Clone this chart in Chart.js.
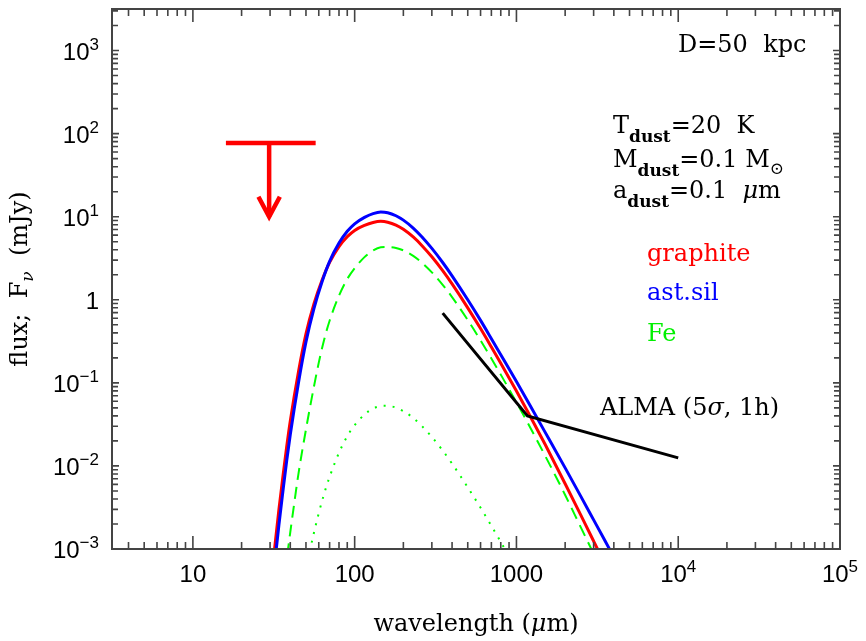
<!DOCTYPE html>
<html>
<head>
<meta charset="utf-8">
<script src="https://cdn.jsdelivr.net/npm/chart.js"></script>
<style>
  html, body { margin: 0; padding: 0; background: #fff; }
  #wrap { width: 866px; height: 641px; position: relative; }
</style>
</head>
<body>
<div id="wrap"><canvas id="sed" width="866" height="641"></canvas></div>
<script>
  // wavelength in micron, flux in mJy
  const wlGrid = [31, 32, 34, 36, 38, 40, 45, 50, 56, 63, 70, 80, 90, 100, 115, 130, 145, 160, 180, 200, 230, 260, 300, 350, 400, 500, 600, 700, 800, 1000, 1200, 1500, 2000, 2500, 3000, 3500, 4000];
  const fluxGraphite = [0.00056, 0.00102, 0.00295, 0.0074, 0.0170, 0.0347, 0.138, 0.389, 0.891, 1.74, 2.82, 4.37, 5.75, 6.84, 7.85, 8.51, 8.79, 8.59, 7.93, 7.05, 5.70, 4.51, 3.29, 2.24, 1.55, 0.80, 0.45, 0.27, 0.172, 0.0797, 0.0417, 0.01834, 0.00611, 0.00256, 0.001245, 0.000674, 0.000395];
  const fluxAstSil = [0.00036, 0.00066, 0.00193, 0.00492, 0.01156, 0.0239, 0.102, 0.311, 0.784, 1.67, 2.90, 4.81, 6.67, 8.21, 9.81, 10.89, 11.38, 11.17, 10.27, 9.09, 7.30, 5.73, 4.15, 2.81, 1.94, 1.0, 0.565, 0.340, 0.218, 0.1036, 0.0555, 0.0257, 0.00947, 0.0043, 0.00224, 0.00129, 0.000798];

  const wlFe = [37, 38, 40, 42, 45, 50, 55, 60, 65, 70, 80, 90, 100, 115, 130, 145, 160, 180, 200, 230, 260, 300, 350, 400, 500, 600, 700, 800, 1000, 1200, 1500, 2000, 2500, 3000, 3500];
  const fluxFe = [0.000497, 0.00075, 0.0016, 0.0032, 0.0082, 0.0275, 0.075, 0.175, 0.34, 0.56, 1.12, 1.78, 2.40, 3.26, 3.92, 4.28, 4.31, 4.21, 3.93, 3.37, 2.80, 2.14, 1.515, 1.077, 0.570, 0.324, 0.1965, 0.1256, 0.0582, 0.0305, 0.01339, 0.004466, 0.00182, 0.000877, 0.00047];

  const wlFeDot = [50, 55, 60, 65, 70, 80, 90, 100, 115, 130, 150, 170, 200, 230, 260, 300, 350, 400, 450, 500, 600, 700, 800, 900];
  const fluxFeDot = [0.000572, 0.001348, 0.0027, 0.00473, 0.00738, 0.0144, 0.0228, 0.0310, 0.0415, 0.0490, 0.053, 0.0520, 0.0457, 0.0378, 0.0303, 0.0223, 0.0153, 0.01066, 0.00759, 0.00552, 0.00314, 0.0019, 0.001216, 0.000804];

  const wlAlma = [350, 1170, 10000];
  const fluxAlma = [0.69, 0.040, 0.0125];

  const limitWl = [16.0, 57.4];
  const limitFlux = 77;
  const limitArrowWl = 29.6;
  const limitArrowTip = 10;

  const xTickValues = [10, 100, 1000, 1e4, 1e5];
  const xTickLabels = [['10', ''], ['100', ''], ['1000', ''], ['10', '4'], ['10', '5']];
  const yTickValues = [1e-3, 1e-2, 1e-1, 1, 10, 100, 1000];
  const yTickLabels = [['10', '\u22123'], ['10', '\u22122'], ['10', '\u22121'], ['1', ''], ['10', '1'], ['10', '2'], ['10', '3']];

  const SERIF = '"DejaVu Serif", serif';
  const SANS = '"Liberation Sans", Arial, sans-serif';
  const F_MAIN = '24px ' + SERIF;
  const F_SUB = 'bold 17px ' + SERIF;

  const pts = (xs, ys) => xs.map((x, i) => ({ x: x, y: ys[i] }));

  function drawRich(ctx, parts, x, y, align) {
    let w = 0;
    parts.forEach(p => { ctx.font = p.font || F_MAIN; p.w = ctx.measureText(p.t).width; w += p.w; });
    let cx = align === 'center' ? x - w / 2 : align === 'right' ? x - w : x;
    parts.forEach(p => {
      ctx.font = p.font || F_MAIN;
      ctx.fillStyle = p.color || '#000';
      ctx.fillText(p.t, cx, y + (p.dy || 0));
      cx += p.w;
    });
  }

  const framePlugin = {
    id: 'frame',
    afterDatasetsDraw(chart) {
      const { ctx, chartArea: a, scales: { x, y } } = chart;
      ctx.save();

      // arrow head of the upper limit
      const tx = x.getPixelForValue(limitArrowWl), ty = y.getPixelForValue(limitArrowTip);
      ctx.strokeStyle = '#ff0000';
      ctx.lineWidth = 4.5;
      ctx.lineJoin = 'miter';
      ctx.beginPath();
      ctx.moveTo(tx - 10.7, ty - 20);
      ctx.lineTo(tx, ty);
      ctx.lineTo(tx + 10.7, ty - 20);
      ctx.stroke();

      // frame
      ctx.strokeStyle = '#444';
      ctx.lineWidth = 2;
      ctx.strokeRect(a.left, a.top, a.right - a.left, a.bottom - a.top);

      // inward ticks on all four sides
      ctx.lineWidth = 1.6;
      ctx.beginPath();
      for (let e = 0; e <= 5; e++) {
        for (let m = 1; m <= 9; m++) {
          const v = m * Math.pow(10, e);
          if (v < x.min || v > x.max) continue;
          const px = x.getPixelForValue(v);
          const len = m === 1 ? 13 : 7;
          ctx.moveTo(px, a.bottom); ctx.lineTo(px, a.bottom - len);
          ctx.moveTo(px, a.top); ctx.lineTo(px, a.top + len);
        }
      }
      for (let e = -3; e <= 3; e++) {
        for (let m = 1; m <= 9; m++) {
          const v = m * Math.pow(10, e);
          if (v < y.min || v > y.max) continue;
          const py = y.getPixelForValue(v);
          const len = m === 1 ? 7 : 6;
          ctx.moveTo(a.left, py); ctx.lineTo(a.left + len, py);
          ctx.moveTo(a.right, py); ctx.lineTo(a.right - len, py);
        }
      }
      ctx.stroke();

      // tick labels
      ctx.textAlign = 'left';
      ctx.textBaseline = 'alphabetic';
      const base = '24px ' + SANS, sup = '17px ' + SANS;
      xTickValues.forEach((v, i) => {
        const px = x.getPixelForValue(v);
        drawRich(ctx, [{ t: xTickLabels[i][0], font: base }, { t: xTickLabels[i][1], font: sup, dy: -10 }], px, 582, 'center');
      });
      yTickValues.forEach((v, i) => {
        const py = y.getPixelForValue(v);
        drawRich(ctx, [{ t: yTickLabels[i][0], font: base }, { t: yTickLabels[i][1], font: sup, dy: -10 }], 99, py + 9, 'right');
      });

      // axis titles
      drawRich(ctx, [{ t: 'wavelength (' }, { t: '\u03bc', font: 'italic 24px ' + SERIF }, { t: 'm)' }], (a.left + a.right) / 2, 631, 'center');
      ctx.save();
      ctx.translate(27, (a.top + a.bottom) / 2);
      ctx.rotate(-Math.PI / 2);
      drawRich(ctx, [{ t: 'flux;  F' }, { t: '\u03bd', font: 'italic 17px ' + SERIF, dy: 6 }, { t: '  (mJy)' }], 0, 0, 'center');
      ctx.restore();

      // annotations
      drawRich(ctx, [{ t: 'D=50  kpc' }], 678, 52, 'left');
      drawRich(ctx, [{ t: 'T' }, { t: 'dust', font: F_SUB, dy: 9 }, { t: '=20  K' }], 613, 133, 'left');
      drawRich(ctx, [{ t: 'M' }, { t: 'dust', font: F_SUB, dy: 9 }, { t: '=0.1 M' }, { t: '\u2299', font: '17px ' + SERIF, dy: 7 }], 613, 167, 'left');
      drawRich(ctx, [{ t: 'a' }, { t: 'dust', font: F_SUB, dy: 9 }, { t: '=0.1  ' }, { t: '\u03bc', font: 'italic 24px ' + SERIF }, { t: 'm' }], 613, 198, 'left');
      drawRich(ctx, [{ t: 'graphite', color: '#ff0000' }], 647, 261, 'left');
      drawRich(ctx, [{ t: 'ast.sil', color: '#0000ff' }], 647, 300, 'left');
      drawRich(ctx, [{ t: 'Fe', color: '#00f000' }], 647, 341, 'left');
      drawRich(ctx, [{ t: 'ALMA (5' }, { t: '\u03c3', font: 'italic 24px ' + SERIF }, { t: ', 1h)' }], 600, 415, 'left');

      ctx.restore();
    }
  };

  const curve = { pointRadius: 0, fill: false, clip: 0, cubicInterpolationMode: 'monotone' };

  new Chart(document.getElementById('sed'), {
    type: 'line',
    data: {
      datasets: [
        { label: 'ALMA (5\u03c3, 1h)', data: pts(wlAlma, fluxAlma), borderColor: '#000', borderWidth: 3, pointRadius: 0, tension: 0, clip: 0 },
        { label: 'limit bar', data: [{ x: limitWl[0], y: limitFlux }, { x: limitWl[1], y: limitFlux }], borderColor: '#ff0000', borderWidth: 4.5, pointRadius: 0, clip: 0 },
        { label: 'limit arrow', data: [{ x: limitArrowWl, y: limitFlux }, { x: limitArrowWl, y: limitArrowTip }], borderColor: '#ff0000', borderWidth: 4.5, pointRadius: 0, clip: 0 },
        Object.assign({ label: 'ast.sil', data: pts(wlGrid, fluxAstSil), borderColor: '#0000ff', borderWidth: 3 }, curve),
        Object.assign({ label: 'graphite', data: pts(wlGrid, fluxGraphite), borderColor: '#ff0000', borderWidth: 3 }, curve),
        Object.assign({ label: 'Fe', data: pts(wlFe, fluxFe), borderColor: '#00ff00', borderWidth: 2, borderDash: [12, 7] }, curve),
        Object.assign({ label: 'Fe (dotted)', data: pts(wlFeDot, fluxFeDot), borderColor: '#00ff00', borderWidth: 2, borderDash: [2, 7] }, curve)
      ]
    },
    options: {
      responsive: false,
      animation: false,
      devicePixelRatio: 1,
      layout: { padding: { left: 0, right: 26, top: 9, bottom: 0 } },
      plugins: { legend: { display: false }, tooltip: { enabled: false }, title: { display: false } },
      scales: {
        x: {
          type: 'logarithmic', min: Math.pow(10, 0.5), max: 1e5,
          ticks: { display: false }, grid: { display: false }, border: { display: false },
          afterFit(s) { s.height = 92; }
        },
        y: {
          type: 'logarithmic', min: 1e-3, max: Math.pow(10, 3.5),
          ticks: { display: false }, grid: { display: false }, border: { display: false },
          afterFit(s) { s.width = 112; }
        }
      }
    },
    plugins: [framePlugin]
  });
</script>
</body>
</html>
